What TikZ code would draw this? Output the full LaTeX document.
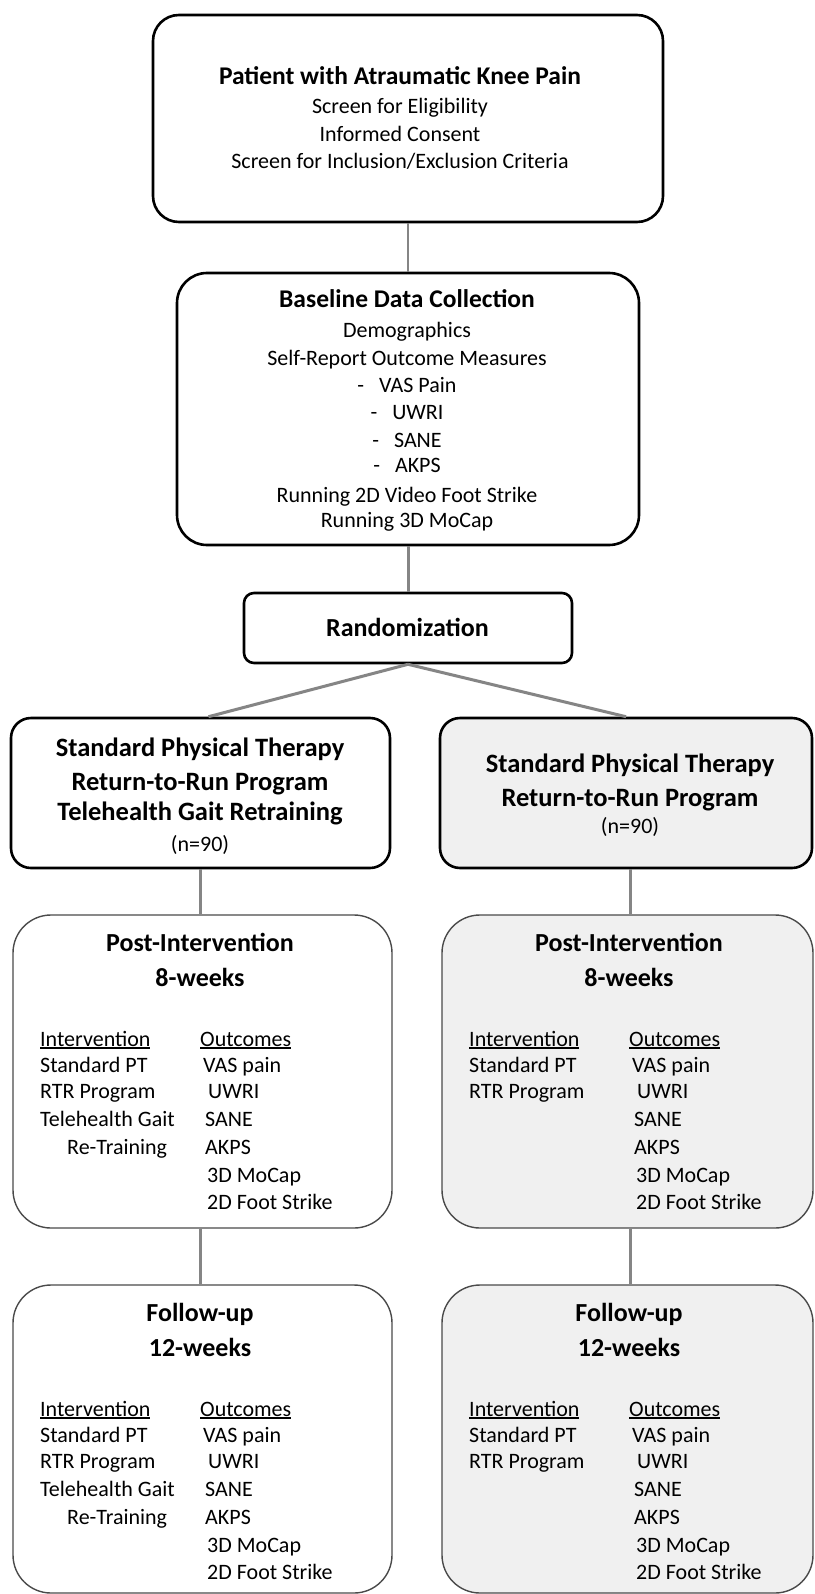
\documentclass[tikz,border=0pt]{standalone}
\usepackage{fontspec}
\setmainfont{Carlito}
\usetikzlibrary{calc,fit}
\definecolor{lgray}{HTML}{F0F0F0}
\definecolor{cgray}{HTML}{858585}
\definecolor{bgray}{HTML}{4A4A4A}
\newcommand\myul[1]{\setbox0\hbox{#1}\rlap{\rule[-3.2pt]{\wd0}{1.8pt}}\box0}
\tikzset{
  heavybox/.style={draw=black, line width=2.6pt, inner sep=0pt},
  lightbox/.style={draw=bgray, line width=1.4pt, inner sep=0pt},
  conn/.style={draw=cgray, line width=3pt},
  thinconn/.style={draw=cgray, line width=1.2pt},
  reg/.style={inner sep=0pt, font=\fontsize{22}{26}\selectfont},
  bld/.style={inner sep=0pt, font=\fontsize{25.5}{30}\selectfont\bfseries},
  bldg/.style={inner sep=0pt, font=\fontsize{26}{30}\selectfont\bfseries},
  bldh/.style={inner sep=0pt, font=\fontsize{26.5}{30}\selectfont\bfseries},
}
\newcommand\panel[8]{%
  \node[lightbox, fill=#6, rounded corners=38pt, fit={(#2,#4) (#3,#5)}] (#1) {};
  \node[bldg, anchor=base] (#1-t1) at (#2+187,#4+36) {#7};
  \node[bldg, anchor=base] (#1-t2) at (#2+187,#4+71) {#8};
  \node[reg, anchor=base west] (#1-ih) at (#2+27,#4+131) {\myul{Intervention}};
  \node[reg, anchor=base west] (#1-i1) at (#2+27,#4+157) {Standard PT};
  \node[reg, anchor=base west] (#1-i2) at (#2+27,#4+183) {RTR Program};
  \node[reg, anchor=base west] (#1-oh) at (#2+187,#4+131) {\myul{Outcomes}};
  \node[reg, anchor=base west] (#1-o1) at (#2+190,#4+157) {VAS pain};
  \node[reg, anchor=base west] (#1-o2) at (#2+195,#4+183) {UWRI};
  \node[reg, anchor=base west] (#1-o3) at (#2+192,#4+211) {SANE};
  \node[reg, anchor=base west] (#1-o4) at (#2+192,#4+239) {AKPS};
  \node[reg, anchor=base west] (#1-o5) at (#2+194,#4+267) {3D MoCap};
  \node[reg, anchor=base west] (#1-o6) at (#2+194,#4+294) {2D Foot Strike};
}
\begin{document}
\begin{tikzpicture}[x=1pt,y=-1pt]
\useasboundingbox[fill=white] (0,0) rectangle (814,1594);

% top box
\node[heavybox, rounded corners=26pt, fit={(153,15) (663,222)}] (top) {};
\node[bld, anchor=base] (top-t) at (400,85) {Patient with Atraumatic Knee Pain};
\node[reg, anchor=base] (top-1) at (400,114) {Screen for Eligibility};
\node[reg, anchor=base] (top-2) at (400,142) {Informed Consent};
\node[reg, anchor=base] (top-3) at (400,169) {Screen for Inclusion/Exclusion Criteria};

% baseline box
\node[heavybox, rounded corners=30pt, fit={(177,273) (639,545)}] (base) {};
\node[bld, anchor=base] (base-t) at (407,308) {Baseline Data Collection};
\node[reg, anchor=base] (base-1) at (407,337) {Demographics};
\node[reg, anchor=base] (base-2) at (407,365) {Self-Report Outcome Measures};
\node[reg, anchor=base] (base-3) at (407,392) {-\hspace{15pt}VAS Pain};
\node[reg, anchor=base] (base-4) at (407,419) {-\hspace{15pt}UWRI};
\node[reg, anchor=base] (base-5) at (407,447) {-\hspace{15pt}SANE};
\node[reg, anchor=base] (base-6) at (407,472) {-\hspace{15pt}AKPS};
\node[reg, anchor=base] (base-7) at (407,502) {Running 2D Video Foot Strike};
\node[reg, anchor=base] (base-8) at (407,527) {Running 3D MoCap};

% randomization
\node[heavybox, rounded corners=10pt, fit={(244,593) (572,663)}] (rand) {};
\node[bldg, anchor=base] (rand-t) at (407.5,636) {Randomization};

% group boxes
\node[heavybox, rounded corners=20pt, fit={(11,718) (390,868)}] (lg) {};
\node[bldh, anchor=base] (lg-1) at (200,756) {Standard Physical Therapy};
\node[bldh, anchor=base] (lg-2) at (200,790) {Return-to-Run Program};
\node[bldh, anchor=base] (lg-3) at (200,820) {Telehealth Gait Retraining};
\node[reg, anchor=base] (lg-4) at (200,851) {(n=90)};

\node[heavybox, fill=lgray, rounded corners=20pt, fit={(440,718) (812,868)}] (rg) {};
\node[bldh, anchor=base] (rg-1) at (630,772) {Standard Physical Therapy};
\node[bldh, anchor=base] (rg-2) at (630,806) {Return-to-Run Program};
\node[reg, anchor=base] (rg-4) at (630,833) {(n=90)};

% panels
\panel{pl}{13}{392}{915}{1228}{white}{Post-Intervention}{8-weeks}
\node[reg, anchor=base west] (pl-i3) at (40,1126) {Telehealth Gait};
\node[reg, anchor=base west] (pl-i4) at (67,1154) {Re-Training};
\panel{pr}{442}{813}{915}{1228}{lgray}{Post-Intervention}{8-weeks}
\panel{fl}{13}{392}{1285}{1593}{white}{Follow-up}{12-weeks}
\node[reg, anchor=base west] (fl-i3) at (40,1496) {Telehealth Gait};
\node[reg, anchor=base west] (fl-i4) at (67,1524) {Re-Training};
\panel{fr}{442}{813}{1285}{1593}{lgray}{Follow-up}{12-weeks}

% connectors
\draw[thinconn] (top.south) -- (top.south |- base.north);
\draw[conn] (base.south) -- (base.south |- rand.north);
\draw[conn] (rand.south) -- ($(lg.north)+(8,0)$);
\draw[conn] (rand.south) -- (rg.north);
\draw[conn] (lg.south) -- (lg.south |- pl.north);
\draw[conn] ($(rg.south)+(4,0)$) -- ($(rg.south |- pr.north)+(4,0)$);
\draw[conn] ($(pl.south)+(-2,0)$) -- ($(pl.south |- fl.north)+(-2,0)$);
\draw[conn] ($(pr.south)+(2.5,0)$) -- ($(pr.south |- fr.north)+(2.5,0)$);
\end{tikzpicture}
\end{document}
